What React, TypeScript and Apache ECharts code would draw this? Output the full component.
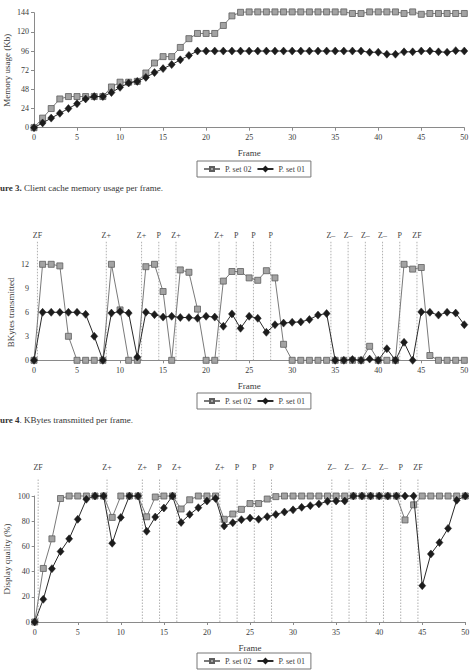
import React, { useEffect, useRef } from 'react';
import * as echarts from 'echarts';

const FONT = '"Liberation Serif", "DejaVu Serif", serif';

const seriesNames = ['P. set 02', 'P. set 01'];

// Figure 3: memory usage (Kb)
const memSet02 = [0, 12, 24, 36, 39, 39, 39, 39, 39, 51, 57, 57, 58, 68.5, 81, 89, 89, 100.5, 111.5, 118, 118, 118, 128, 140, 144.5,
  145, 145, 145, 145, 145, 145, 145, 145, 145, 145, 145, 145,
  143, 143, 145, 145, 145, 145, 143, 145, 142, 143, 143, 143, 143, 143];
const memSet01 = [0, 6, 12, 18, 24, 30, 36, 39, 39, 44, 50.5, 56, 58, 63, 69, 74, 79, 85, 90.5, 96,
  96, 96, 96, 96, 96, 96, 96, 96, 96, 96, 96, 96, 96, 96, 96, 96, 96, 96, 96,
  94.5, 94.5, 92, 92, 95, 95, 96, 96, 95, 94.5, 96.5, 96];

// Figure 4: KBytes transmitted
const kbSet02 = [0, 12, 12, 11.8, 3, 0, 0, 0, 0, 12, 6.3, 0, 0, 11.7, 12, 8.6, 0, 11.3, 11, 6.4, 0, 0, 9.9, 11.1, 11.1,
  10.3, 10, 11.2, 10.3, 2, 0, 0, 0, 0, 0, 0, 0, 0, 0, 1.75, 0, 0, 0, 12, 11.4, 11.6, 0.6, 0, 0, 0, 0];
const kbSet01 = [0, 6, 6, 6, 6, 6, 5.75, 3, 0, 5.9, 6.1, 5.9, 0.4, 6, 5.7, 5.4, 5.5, 5.35, 5.35, 5.25, 5.5, 5.4, 4.25, 5.8, 4,
  5.5, 5.25, 3.5, 4.45, 4.65, 4.75, 4.8, 5.1, 5.65, 5.85, 0, 0, 0.1, 0, 0.15, 0, 1.45, 0, 2.25, 0, 6.05, 6, 5.65, 6, 5.9, 4.45];

// Figure 5: display quality (%)
const qSet02 = [0, 42.5, 66, 98, 100, 100, 100, 100, 100, 83, 100, 100, 100, 83.5, 99.2, 100, 100, 89.7, 97, 100, 100, 100, 81.5, 85.7, 89.4,
  94, 94, 97.6, 99.5, 100, 100, 100, 100, 100, 100, 100, 100, 100, 100, 100, 100, 100, 100,
  81, 93, 100, 100, 100, 100, 100, 100];
const qSet01 = [0, 18, 42.3, 56, 66, 81.5, 97.4, 100, 100, 62.5, 83, 100, 100, 72, 83.3, 90.5, 100, 79, 85.4, 90.7, 96, 98, 76.2, 78.8, 81.2,
  82.5, 81.5, 83.6, 85.4, 87.3, 89, 91, 92.3, 93.7, 95.8, 96, 96,
  100, 100, 100, 100, 100, 100, 100, 100, 28.8, 54, 63, 74.3, 96.6, 100];

// Event markers (vertical dotted lines)
const markerFrames = [0.4, 8.4, 12.5, 14.5, 16.5, 21.5, 23.5, 25.5, 27.5, 34.5, 36.5, 38.5, 40.5, 42.5, 44.5];
const markerLabels = ['ZF', 'Z+', 'Z+', 'P', 'Z+', 'Z+', 'P', 'P', 'P', 'Z–', 'Z–', 'Z–', 'Z–', 'P', 'ZF'];

const memTicks = { min: 0, max: 144, interval: 24 };
const kbTicks = { min: 0, max: 12, interval: 3 };
const qTicks = { min: 0, max: 100, interval: 20 };
const frameTicks = { min: 0, max: 50, interval: 5 };

const captions = [
  { bold: 'ure 3.', rest: ' Client cache memory usage per frame.' },
  { bold: 'ure 4', rest: '. KBytes transmitted per frame.' },
];

const toPairs = (arr: number[]) => arr.map((v, i) => [i, v]);

const axisColor = '#8a8a8a';
const textColor = '#3a3a3a';

function xAxis(gridIndex: number) {
  return {
    type: 'value', gridIndex, ...frameTicks,
    name: 'Frame', nameLocation: 'middle', nameGap: 21, nameMoveOverlap: false,
    nameTextStyle: { fontFamily: FONT, fontSize: 9, color: textColor },
    axisLine: { show: true, lineStyle: { color: axisColor, width: 1 } },
    axisTick: { show: true, length: 3, lineStyle: { color: axisColor } },
    axisLabel: { fontFamily: FONT, fontSize: 8, color: textColor, margin: 6 },
    splitLine: { show: false },
  };
}

function yAxis(gridIndex: number, ticks: any, name: string, showLine: boolean, nameGap: number) {
  return {
    type: 'value', gridIndex, ...ticks,
    name, nameLocation: 'middle', nameGap, nameRotate: 90, nameMoveOverlap: false,
    nameTextStyle: { fontFamily: FONT, fontSize: 9, color: textColor },
    axisLine: { show: showLine, lineStyle: { color: axisColor, width: 1 } },
    axisTick: { show: showLine, length: 3, lineStyle: { color: axisColor } },
    axisLabel: { fontFamily: FONT, fontSize: 8, color: textColor, margin: 5 },
    splitLine: { show: false },
  };
}

function lineSeries(name: string, data: number[], idx: number) {
  const isSquare = name === seriesNames[0];
  return {
    type: 'line', name, xAxisIndex: idx, yAxisIndex: idx,
    data: toPairs(data),
    clip: false,
    symbol: isSquare ? 'rect' : 'diamond',
    symbolSize: isSquare ? 6 : [7, 8],
    showAllSymbol: true,
    z: isSquare ? 2 : 3,
    lineStyle: { color: isSquare ? '#7a7a7a' : '#2a2a2a', width: 1 },
    itemStyle: isSquare
      ? { color: '#a3a3a3', borderColor: '#5e5e5e', borderWidth: 0.8 }
      : { color: '#1c1c1c', borderColor: '#1c1c1c', borderWidth: 0.5 },
  };
}

function markerSeries(idx: number, top: number, labelVal: number) {
  return {
    type: 'custom', xAxisIndex: idx, yAxisIndex: idx, clip: false, z: 1, silent: true,
    data: markerFrames.map((f) => [f, 0]),
    encode: { x: 0, y: 1 },
    renderItem: (params: any, api: any) => {
      const x = api.value(0);
      const a = api.coord([x, 0]);
      const b = api.coord([x, top]);
      const c = api.coord([x, labelVal]);
      return {
        type: 'group',
        children: [
          {
            type: 'line',
            shape: { x1: a[0], y1: a[1], x2: b[0], y2: b[1] },
            style: { stroke: '#9c9c9c', lineWidth: 0.8, lineDash: [1.5, 1.5] },
          },
          {
            type: 'text', x: c[0], y: c[1],
            style: {
              text: markerLabels[params.dataIndex], fill: '#444',
              fontFamily: FONT, fontSize: 8, align: 'center', verticalAlign: 'middle',
            },
          },
        ],
      };
    },
  };
}

function legend(top: number) {
  return {
    data: seriesNames, left: 197, top, orient: 'horizontal',
    itemWidth: 16, itemHeight: 5, itemGap: 5,
    padding: [4, 6, 4, 6],
    borderColor: '#777', borderWidth: 1, borderRadius: 0,
    backgroundColor: '#fff',
    textStyle: { fontFamily: FONT, fontSize: 8, color: textColor },
    selectedMode: false,
  };
}

export default function App() {
  const ref = useRef<HTMLDivElement>(null);
  useEffect(() => {
    const chart = echarts.init(ref.current!, null, { renderer: 'svg' });
    const gridBase = { containLabel: false, outerBoundsMode: 'none' };
    const option: any = {
      animation: false,
      backgroundColor: '#fff',
      textStyle: { fontFamily: FONT },
      grid: [
        { ...gridBase, left: 34, right: 5.7, top: 12.7, height: 115 },
        { ...gridBase, left: 34, right: 5.7, top: 264.3, height: 96 },
        { ...gridBase, left: 34.7, right: 4.7, top: 496, height: 126 },
      ],
      xAxis: [xAxis(0), xAxis(1), xAxis(2)],
      yAxis: [
        yAxis(0, memTicks, 'Memory usage (Kb)', true, 22.5),
        yAxis(1, kbTicks, 'BKytes transmitted', false, 18.5),
        yAxis(2, qTicks, 'Display quality (%)', true, 23),
      ],
      legend: [legend(161), legend(393), legend(653)],
      series: [
        markerSeries(1, 15, 15.6),
        markerSeries(2, 114.3, 122.5),
        lineSeries(seriesNames[0], memSet02, 0),
        lineSeries(seriesNames[1], memSet01, 0),
        lineSeries(seriesNames[0], kbSet02, 1),
        lineSeries(seriesNames[1], kbSet01, 1),
        lineSeries(seriesNames[0], qSet02, 2),
        lineSeries(seriesNames[1], qSet01, 2),
      ],
      graphic: captions.map((c, i) => ({
        type: 'text', left: 0, top: i === 0 ? 183 : 415,
        style: {
          text: `{b|${c.bold}}${c.rest}`,
          fontFamily: FONT, fontSize: 9, fill: '#333',
          rich: { b: { fontFamily: FONT, fontSize: 9, fontWeight: 'bold', fill: '#333' } },
        },
      })),
    };
    chart.setOption(option);
    return () => chart.dispose();
  }, []);
  return <div ref={ref} style={{ position: 'absolute', left: 0, top: 0, width: 470, height: 672 }} />;
}
